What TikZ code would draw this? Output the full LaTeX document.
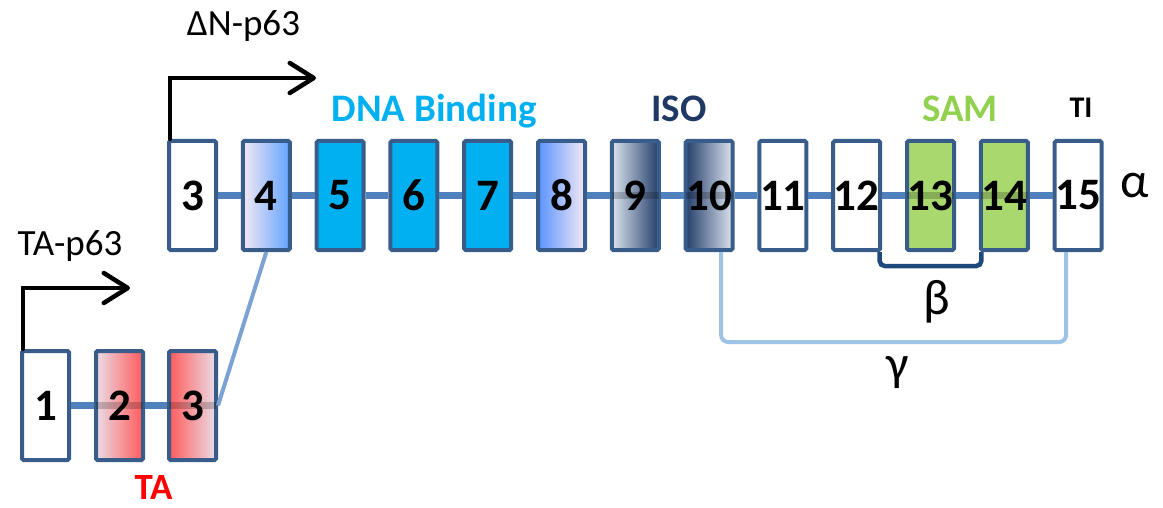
\documentclass[tikz,border=0pt]{standalone}
\usepackage{fontspec}
\setmainfont{Carlito}
\usetikzlibrary{arrows.meta}
\definecolor{boxline}{HTML}{385D8A}
\definecolor{backbone}{HTML}{4F81BD}
\definecolor{linkblue}{HTML}{7CA2D4}
\definecolor{gammablue}{HTML}{9DC3E6}
\definecolor{betanavy}{HTML}{1F497D}
\definecolor{dnacyan}{HTML}{00B0F0}
\definecolor{isonavy}{HTML}{1F3864}
\definecolor{samgreen}{HTML}{92D050}
\definecolor{exgreen}{HTML}{A8D86E}
\definecolor{tared}{HTML}{FF0000}
\definecolor{exred}{HTML}{FF5B5B}
\definecolor{palered}{HTML}{EADCE6}
\definecolor{palepink}{HTML}{F4E8F4}
\definecolor{midblue}{HTML}{62A4FF}
\definecolor{palenavy}{HTML}{DCE3F0}
\definecolor{darknavy}{HTML}{243F6A}
\begin{document}
\begin{tikzpicture}[x=1pt,y=-1pt,
  exon/.style={draw=boxline, line width=4pt, rounded corners=1.5pt,
    minimum width=47pt, minimum height=109pt, inner sep=0pt,
    font=\fontsize{45}{45}\selectfont\bfseries, fill=white},
  bbone/.style={draw=backbone, line width=6.5pt},
  thru/.style={draw=black, line width=6.5pt, opacity=0.2},
  promoter/.style={draw=black, line width=4.5pt, line cap=round, line join=miter,
    -{Straight Barb[length=24pt, width=30pt, round]}},
  lbl/.style={anchor=base, inner sep=0pt},
  greek/.style={lbl, font=\fontsize{50}{50}\selectfont}
]
\useasboundingbox (0,0) rectangle (1163,508);

% bottom row (TA)
\node[exon] (b1) at (45.5,405.5) {1};
\node[exon, left color=palered, middle color=exred, right color=exred] (b2) at (119.5,405.5) {2};
\node[exon, left color=exred, middle color=exred, right color=palered] (b3) at (192.5,405.5) {3};

% top row
\node[exon] (c3) at (192.5,195.5) {3};
\node[exon, left color=palepink, middle color=white!30!midblue!60!palepink, right color=midblue] (c4) at (266.3,195.5) {4};
\node[exon, fill=dnacyan] (c5) at (340.1,195.5) {5};
\node[exon, fill=dnacyan] (c6) at (413.9,195.5) {6};
\node[exon, fill=dnacyan] (c7) at (487.7,195.5) {7};
\node[exon, left color=midblue!90!blue, middle color=midblue!45!palepink, right color=palepink] (c8) at (561.5,195.5) {8};
\node[exon, left color=palenavy, middle color=palenavy!88!darknavy, right color=darknavy] (c9) at (635.3,195.5) {9};
\node[exon, left color=darknavy, middle color=palenavy!65!darknavy, right color=palenavy] (c10) at (709.1,195.5) {10};
\node[exon] (c11) at (782.9,195.5) {11};
\node[exon] (c12) at (856.7,195.5) {12};
\node[exon, fill=exgreen] (c13) at (930.5,195.5) {13};
\node[exon, fill=exgreen] (c14) at (1004.3,195.5) {14};
\node[exon] (c15) at (1078.1,195.5) {15};

% backbone lines
\foreach \a/\b in {b1/b2,b2/b3,c3/c4,c4/c5,c5/c6,c6/c7,c7/c8,c8/c9,c9/c10,c10/c11,c11/c12,c12/c13,c13/c14,c14/c15}
  \draw[bbone] (\a) -- (\b);
\foreach \n in {b2,b3,c9,c10,c13,c14}
  \draw[thru] ([xshift=2pt]\n.west) -- ([xshift=-2pt]\n.east);

% link from TA exon 3 to exon 4
\draw[draw=linkblue, line width=4pt] (b3.east) -- (c4.south);

% beta bracket
\draw[draw=betanavy, line width=4.5pt, rounded corners=5pt]
  ([xshift=-2.5pt]c12.south east) -- ++(0,14) -| ([xshift=2.5pt]c14.south west);
% gamma bracket
\draw[draw=gammablue, line width=4pt, rounded corners=7pt]
  ([xshift=12pt]c10.south) -- ++(0,90) -| ([xshift=-12pt]c15.south);

% promoter arrows
\coordinate (dntip) at (316,78);
\coordinate (tatip) at (130,288);
\draw[promoter] ([xshift=3pt]c3.north west) |- (dntip);
\draw[promoter] ([xshift=3pt]b1.north west) |- (tatip);

% labels
\node[lbl, font=\fontsize{37}{37}\selectfont] (dnlbl) at (243.5,36) {ΔN-p63};
\node[lbl, font=\fontsize{37}{37}\selectfont] (talbl) at (70,255) {TA-p63};
\node[lbl, font=\fontsize{39}{39}\selectfont\bfseries, text=dnacyan] (dna) at (434,122) {DNA Binding};
\node[lbl, font=\fontsize{39}{39}\selectfont\bfseries, text=isonavy] (iso) at (679,122) {ISO};
\node[lbl, font=\fontsize{39}{39}\selectfont\bfseries, text=samgreen] (sam) at (960,122) {SAM};
\node[lbl, font=\fontsize{30}{30}\selectfont\bfseries] (ti) at (1081,118) {TI};
\node[lbl, font=\fontsize{37}{37}\selectfont\bfseries, text=tared] (ta) at (153.5,499) {TA};
\node[greek] (alpha) at (1135,197) {α};
\node[greek] (beta) at (937,314) {β};
\node[greek] (gamma) at (898,380) {γ};
\end{tikzpicture}
\end{document}
